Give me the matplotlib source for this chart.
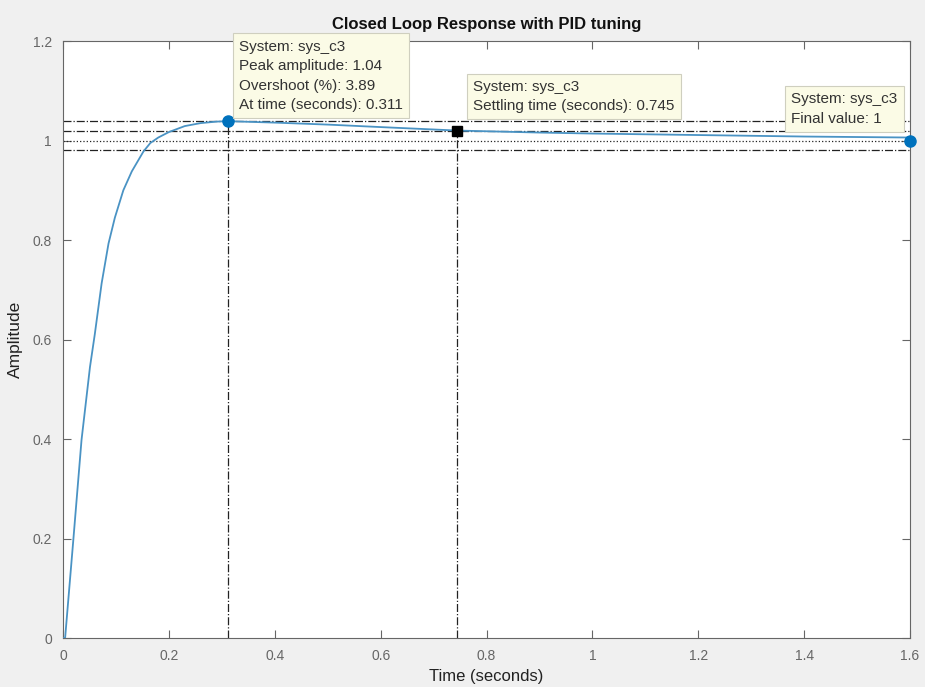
import matplotlib.pyplot as plt

# step response
time_s = [0.0, 0.004, 0.0195, 0.035, 0.051, 0.060, 0.073, 0.086, 0.098, 0.114,
          0.130, 0.152, 0.165, 0.180, 0.20, 0.23, 0.26, 0.29, 0.311, 0.40, 0.50,
          0.60, 0.745, 0.90, 1.0, 1.2, 1.4, 1.6]
amplitude = [0.0, 0.0, 0.197, 0.398, 0.545, 0.610, 0.713, 0.793, 0.845, 0.900,
             0.938, 0.978, 0.995, 1.006, 1.017, 1.029, 1.035, 1.038, 1.0389, 1.036, 1.032,
             1.027, 1.020, 1.016, 1.014, 1.011, 1.008, 1.006]

peak_t, peak_y = 0.311, 1.0389
settle_t, settle_y = 0.745, 1.02
final_t, final_y = 1.6, 1.0
band = [0.98, 1.02]

x_ticks = [0, 0.2, 0.4, 0.6, 0.8, 1.0, 1.2, 1.4, 1.6]
x_labels = ["0", "0.2", "0.4", "0.6", "0.8", "1", "1.2", "1.4", "1.6"]
y_ticks = [0, 0.2, 0.4, 0.6, 0.8, 1.0, 1.2]
y_labels = ["0", "0.2", "0.4", "0.6", "0.8", "1", "1.2"]

plt.rcParams["font.family"] = ["Liberation Sans", "DejaVu Sans"]

fig = plt.figure(figsize=(9.25, 6.87), dpi=100, facecolor="#f0f0f0")
ax = fig.add_axes([0.0681, 0.0713, 0.9157, 0.869])
ax.set_facecolor("white")

ref = dict(color="#222222", lw=0.9, zorder=2)
ax.axhline(peak_y, ls="-.", **ref)
ax.axhline(band[1], ls="-.", **ref)
ax.axhline(band[0], ls="-.", **ref)
ax.axhline(final_y, ls=":", **ref)
ax.plot([peak_t, peak_t], [0, peak_y], ls="-.", **ref)
ax.plot([settle_t, settle_t], [0, settle_y], ls="-.", **ref)

ax.plot(time_s, amplitude, color="#4a93c4", lw=1.3, zorder=3)
ax.plot([peak_t], [peak_y], "o", color="#0072bd", ms=8, zorder=5)
ax.plot([settle_t], [settle_y], "s", color="black", ms=7, zorder=5)
ax.plot([final_t], [final_y], "o", color="#0072bd", ms=8, zorder=5, clip_on=False)

box = dict(boxstyle="square,pad=0.4", fc="#fbfbe6", ec="#cfcfbf", lw=0.8)
tip = dict(fontsize=11, color="#333333", va="top", ha="left", zorder=6,
           linespacing=1.5, bbox=box)
ax.text(0.333, 1.203, "System: sys_c3\nPeak amplitude: 1.04\nOvershoot (%): 3.89\n"
        "At time (seconds): 0.311", **tip)
ax.text(0.775, 1.122, "System: sys_c3\nSettling time (seconds): 0.745", **tip)
ax.text(1.376, 1.097, "System: sys_c3\nFinal value: 1", **tip)

ax.set_xlim(0, 1.6)
ax.set_ylim(0, 1.2)
ax.set_xticks(x_ticks)
ax.set_xticklabels(x_labels)
ax.set_yticks(y_ticks)
ax.set_yticklabels(y_labels)
ax.tick_params(direction="in", length=6, width=0.8, colors="#666666",
               labelsize=10, top=True, right=True, pad=8)
for s in ax.spines.values():
    s.set_color("#666666")
    s.set_linewidth(0.8)

ax.set_title("Closed Loop Response with PID tuning", fontsize=12,
             fontweight="bold", color="#111111", pad=9)
ax.set_xlabel("Time (seconds)", fontsize=12, color="#222222", labelpad=4)
ax.set_ylabel("Amplitude", fontsize=12.5, color="#222222", labelpad=7)

fig.savefig("out.png", dpi=100, facecolor=fig.get_facecolor())
